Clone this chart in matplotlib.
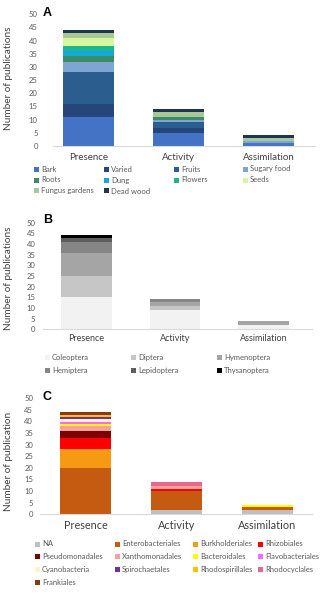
import matplotlib
matplotlib.use('Agg')
import matplotlib.pyplot as plt
from matplotlib.patches import Rectangle

W, H = 334, 594
plt.rcParams['font.family'] = ['Lato', 'DejaVu Sans']

stages = ['Presence', 'Activity', 'Assimilation']

# A - food sources (counts per stage: Presence, Activity, Assimilation)
food_labels = ['Bark', 'Varied', 'Fruits', 'Sugary food', 'Roots', 'Dung',
               'Flowers', 'Seeds', 'Fungus gardens', 'Dead wood']
food_counts = [
    [11, 5, 1],
    [5, 2, 0],
    [12, 2, 0],
    [4, 1, 1],
    [2, 1, 0],
    [2, 0, 0],
    [2, 0, 0],
    [3, 0, 0],
    [2, 2, 1],
    [1, 1, 1],
]
food_colors = ['#4472c4', '#26457a', '#2b5e8e', '#7fa5d3', '#3c8c68', '#12a9d6',
               '#1db58f', '#d4f7a0', '#a8c997', '#1f3550']

# B - insect orders
insect_labels = ['Coleoptera', 'Diptera', 'Hymenoptera', 'Hemiptera',
                 'Lepidoptera', 'Thysanoptera']
insect_counts = [
    [15, 9, 2],
    [10, 2, 0],
    [11, 2, 2],
    [5, 1, 0],
    [2, 0, 0],
    [1, 0, 0],
]
insect_colors = ['#f2f2f2', '#c6c6c6', '#a5a5a5', '#858585', '#5e5e5e', '#000000']

# C - bacterial orders
bact_labels = ['NA', 'Enterobacteriales', 'Burkholderiales', 'Rhizobiales',
               'Pseudomonadales', 'Xanthomonadales', 'Bacteroidales',
               'Flavobacteriales', 'Cyanobacteria', 'Spirochaetales',
               'Rhodospirillales', 'Rhodocyclales', 'Frankiales']
bact_counts = [
    [0, 2, 2],
    [20, 8, 1],
    [8, 0, 0],
    [5, 1, 0],
    [3, 0, 0],
    [2, 1, 0],
    [1, 0, 1],
    [1, 0, 0],
    [1, 0, 0],
    [1, 0, 0],
    [1, 0, 0],
    [0, 2, 0],
    [1, 0, 0],
]
bact_colors = ['#bfbfbf', '#c55a11', '#f59a12', '#ff0000', '#7f0000', '#f4a39a',
               '#ffff00', '#ff66ff', '#fff2cc', '#7030a0', '#ffc000', '#e8688c',
               '#843c0c']

TICK_C = '#595959'
LABEL_C = '#404040'


def px_axes(fig, left, top, right, bottom):
    return fig.add_axes([left / W, 1 - bottom / H, (right - left) / W, (bottom - top) / H])


def stacked(ax, counts, colors, xlim, width=0.57):
    x = list(range(len(stages)))
    base = [0] * len(stages)
    for vals, c in zip(counts, colors):
        ax.bar(x, vals, width, bottom=base, color=c, linewidth=0)
        base = [b + v for b, v in zip(base, vals)]
    ax.set_xlim(*xlim)
    ax.set_ylim(0, 50)
    ax.set_yticks(range(0, 51, 5))
    ax.set_xticks(x)
    for s in ['top', 'right', 'left']:
        ax.spines[s].set_visible(False)
    ax.spines['bottom'].set_color('#d9d9d9')
    ax.spines['bottom'].set_linewidth(0.8)
    ax.tick_params(length=0)
    ax.set_facecolor('none')


def legend_grid(fig, labels, colors, xs, ys, fs=5.5, gap=7, sq=5):
    ncol = len(xs)
    for i, (lab, c) in enumerate(zip(labels, colors)):
        x = xs[i % ncol]
        y = ys[i // ncol]
        fig.patches.append(Rectangle((x / W, 1 - (y + sq / 2) / H), sq / W, sq / H,
                                     transform=fig.transFigure, facecolor=c,
                                     edgecolor='none'))
        fig.text((x + gap) / W, 1 - y / H, lab, fontsize=fs, color=TICK_C,
                 va='center', ha='left')


fig = plt.figure(figsize=(W / 100, H / 100), dpi=100)

# panel A
axA = px_axes(fig, 53, 14.3, 315, 146)
stacked(axA, food_counts, food_colors, (-0.394, 2.517))
axA.set_xticklabels(stages, fontsize=7, color=LABEL_C)
axA.tick_params(axis='x', pad=5)
axA.tick_params(axis='y', labelsize=5.5, labelcolor=TICK_C, pad=11)
axA.set_ylabel('Number of publications', fontsize=7.2, color=LABEL_C)
axA.yaxis.set_label_coords((13 - 53) / 262, 0.516)
fig.text(43 / W, 1 - 13 / H, 'A', fontsize=9, fontweight='bold',
         family='Liberation Sans', va='center')
legend_grid(fig, food_labels, food_colors, [34, 104, 174, 243], [169, 180, 191])

# panel B
axB = px_axes(fig, 43, 222.7, 312, 329.3)
stacked(axB, insect_counts, insect_colors, (-0.49, 2.548))
axB.set_xticklabels(stages, fontsize=6.5, color=LABEL_C)
axB.tick_params(axis='x', pad=3.5)
axB.tick_params(axis='y', labelsize=5.5, labelcolor=TICK_C, pad=5.5)
axB.set_ylabel('Number of publications', fontsize=7.2, color=LABEL_C)
axB.yaxis.set_label_coords((13 - 43) / 269, 0.48)
fig.text(43 / W, 1 - 220 / H, 'B', fontsize=9, fontweight='bold',
         family='Liberation Sans', va='center')
legend_grid(fig, insect_labels, insect_colors, [45, 131, 217], [357.7, 370], fs=5.5)

# panel C
axC = px_axes(fig, 40, 398.3, 312, 514.3)
stacked(axC, bact_counts, bact_colors, (-0.5, 2.489))
axC.set_xticklabels(stages, fontsize=7.8, color=LABEL_C)
axC.tick_params(axis='x', pad=4)
axC.tick_params(axis='y', labelsize=5.5, labelcolor=TICK_C, pad=5)
axC.set_ylabel('Number of publication', fontsize=7.2, color=LABEL_C)
axC.yaxis.set_label_coords((13 - 40) / 272, 0.46)
fig.text(43 / W, 1 - 397 / H, 'C', fontsize=9, fontweight='bold',
         family='Liberation Sans', va='center')
legend_grid(fig, bact_labels, bact_colors, [35, 115, 193, 258],
            [544, 556.3, 569.3, 582.3])

fig.savefig('out.png', dpi=100, facecolor='white')
